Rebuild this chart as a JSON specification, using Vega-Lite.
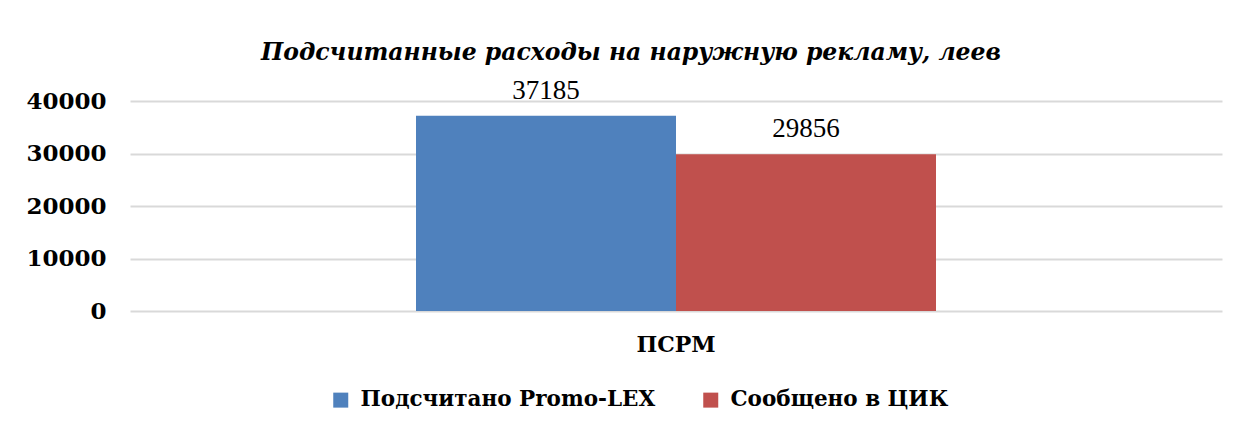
{
  "$schema": "https://vega.github.io/schema/vega-lite/v6.json",
  "width": 1092,
  "height": 210,
  "autosize": {"type": "none"},
  "padding": {"left": 130, "top": 101, "right": 17, "bottom": 121},
  "background": "white",
  "title": {
    "text": "Подсчитанные расходы на наружную рекламу, леев",
    "font": "DejaVu Serif",
    "fontSize": 23.5,
    "fontWeight": "bold",
    "fontStyle": "italic",
    "color": "#000000",
    "anchor": "middle",
    "frame": "group",
    "dx": -45,
    "offset": 12
  },
  "data": {
    "values": [
      {"category": "ПСРМ", "series": "Подсчитано Promo-LEX", "value": 37185},
      {"category": "ПСРМ", "series": "Сообщено в ЦИК", "value": 29856}
    ]
  },
  "encoding": {
    "x": {
      "field": "category",
      "type": "nominal",
      "scale": {"paddingInner": 0, "paddingOuter": 0.55},
      "axis": {
        "title": null,
        "labelAngle": 0,
        "domain": false,
        "ticks": false,
        "labelPadding": 23,
        "labelFont": "DejaVu Serif",
        "labelFontSize": 22,
        "labelFontWeight": "bold",
        "labelColor": "#000000"
      }
    },
    "xOffset": {"field": "series", "type": "nominal", "scale": {"paddingInner": 0, "paddingOuter": 0}},
    "y": {
      "field": "value",
      "type": "quantitative",
      "scale": {"domain": [0, 40000], "nice": false},
      "axis": {
        "title": null,
        "values": [0, 10000, 20000, 30000, 40000],
        "format": "d",
        "domain": false,
        "ticks": false,
        "labelPadding": 24,
        "labelFont": "DejaVu Serif",
        "labelFontSize": 23,
        "labelFontWeight": "bold",
        "labelColor": "#000000",
        "gridColor": "#d9d9d9",
        "gridWidth": 2
      }
    }
  },
  "layer": [
    {
      "mark": {"type": "bar"},
      "encoding": {
        "color": {
          "field": "series",
          "type": "nominal",
          "scale": {"domain": ["Подсчитано Promo-LEX", "Сообщено в ЦИК"], "range": ["#4F81BD", "#C0504D"]},
          "legend": {
            "title": null,
            "orient": "none",
            "direction": "horizontal",
            "legendX": 200,
            "legendY": 288,
            "padding": 0,
            "symbolType": "square",
            "symbolSize": 225,
            "symbolStrokeWidth": 0,
            "symbolOpacity": 1,
            "labelOffset": 9,
            "columnPadding": 44,
            "labelFont": "DejaVu Serif",
            "labelFontSize": 21.5,
            "labelFontWeight": "bold",
            "labelColor": "#000000",
            "labelLimit": 0
          }
        }
      }
    },
    {
      "mark": {"type": "text", "baseline": "alphabetic", "dy": -17, "font": "Liberation Serif", "fontSize": 27, "color": "#000000"},
      "encoding": {
        "text": {"field": "value", "type": "quantitative", "format": "d"}
      }
    }
  ],
  "config": {
    "view": {"stroke": null}
  }
}
